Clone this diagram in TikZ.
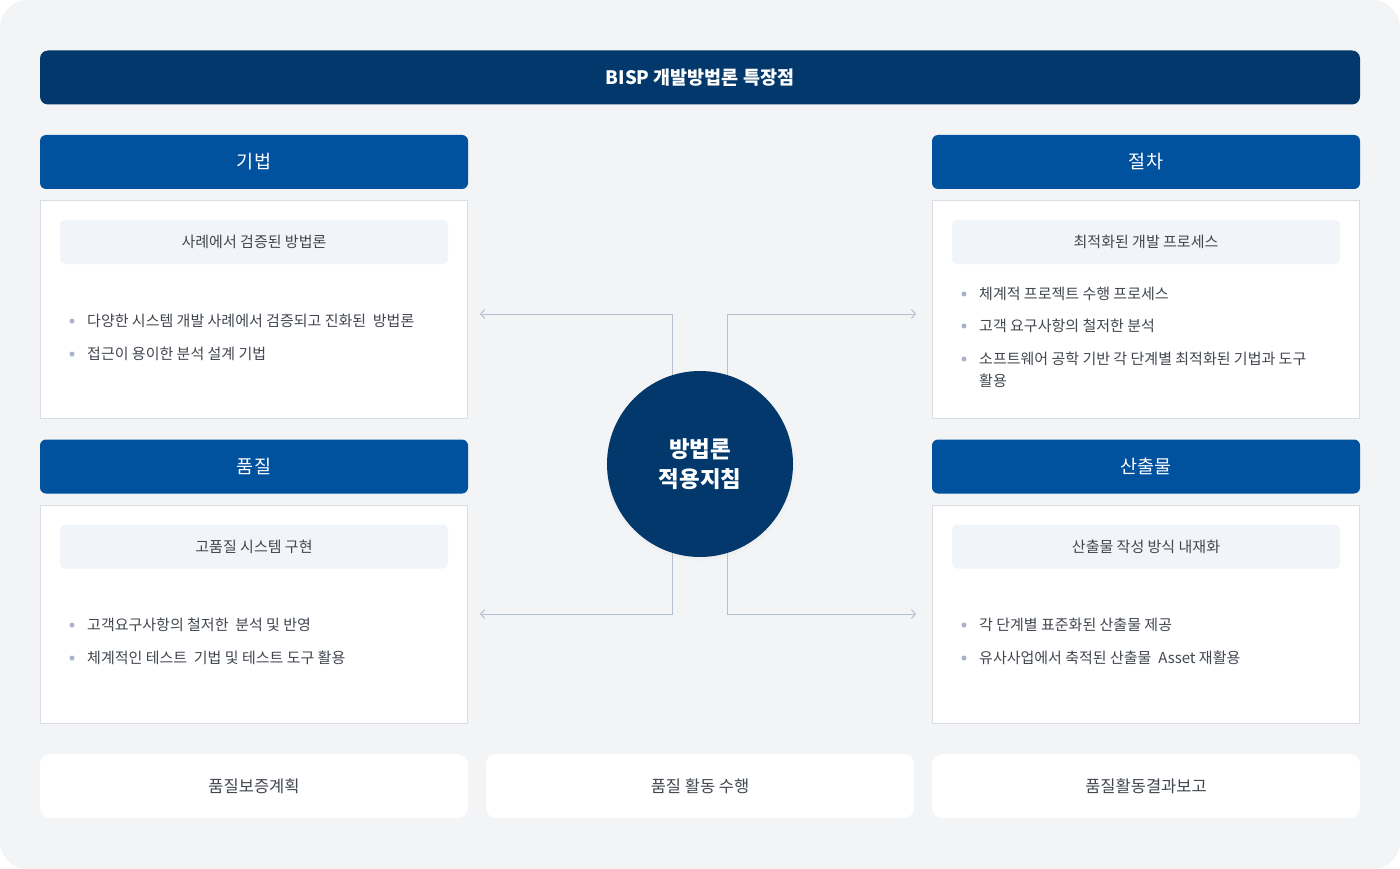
\documentclass[tikz,border=0pt]{standalone}
\usepackage{fontspec}
\setmainfont{Noto Sans CJK KR}
\usetikzlibrary{arrows.meta,shadows}
\definecolor{navy}{HTML}{02386B}
\definecolor{headblue}{HTML}{00519E}
\definecolor{panelbg}{HTML}{F3F4F6}
\definecolor{subbg}{HTML}{F1F4F8}
\definecolor{boxline}{HTML}{DADDE2}
\definecolor{linkc}{HTML}{B5C1D1}
\definecolor{dotc}{HTML}{A8B3C3}
\definecolor{txt}{HTML}{42474F}

\begin{document}
\begin{tikzpicture}[x=1pt, y=-1pt,
    head/.style={fill=headblue, text=white, rounded corners=6pt, minimum width=428pt, minimum height=54pt, font=\fontsize{18.5}{22}\selectfont},
    card/.style={fill=white, draw=boxline, line width=1pt, minimum width=427pt, minimum height=218pt},
    subhead/.style={fill=subbg, rounded corners=5pt, minimum width=388pt, minimum height=44pt, text=txt, font=\fontsize{15}{18}\selectfont},
    item/.style={anchor=west, text=txt, inner sep=0pt, font=\fontsize{15}{22}\selectfont, align=left},
    stagebox/.style={fill=white, rounded corners=10pt, minimum width=428pt, minimum height=64pt, text=txt, font=\fontsize{16.5}{20}\selectfont},
    link/.style={draw=linkc, line width=1pt, -{Straight Barb[length=4pt,width=9pt]}}]

      % background panel
      \fill[white] (0,0) rectangle (1400,869);
      \fill[panelbg, rounded corners=28pt] (0,0) rectangle (1400,869);

      \node[fill=navy, text=white, rounded corners=8pt, minimum width=1320pt, minimum height=54pt, font=\bfseries\fontsize{18.5}{22}\selectfont] (title) at (700,77.5) {BISP 개발방법론 특장점};

      % four corners
      \node[head] (tech) at (254,162) {기법};
      \node[head] (proc) at (1146,162) {절차};
      \node[head] (qual) at (254,466.5) {품질};
      \node[head] (outp) at (1146,466.5) {산출물};

      \node[card] (techC) at (254,309.5) {};
      \node[card] (procC) at (1146,309.5) {};
      \node[card] (qualC) at (254,614) {};
      \node[card] (outpC) at (1146,614) {};

      \node[subhead] (techS) at (254,242) {사례에서 검증된 방법론};
      \node[subhead] (procS) at (1146,242) {최적화된 개발 프로세스};
      \node[subhead] (qualS) at (254,546.5) {고품질 시스템 구현};
      \node[subhead] (outpS) at (1146,546.5) {산출물 작성 방식 내재화};

      \fill[dotc] (72,321) circle (2.5) (72,354) circle (2.5);
      \node[item] (t1) at (87,321) {다양한 시스템 개발 사례에서 검증되고 진화된~ 방법론};
      \node[item] (t2) at (87,354) {접근이 용이한 분석 설계 기법};

      \fill[dotc] (964,294) circle (2.5) (964,326) circle (2.5) (964,359) circle (2.5);
      \node[item] (p1) at (979,294) {체계적 프로젝트 수행 프로세스};
      \node[item] (p2) at (979,326) {고객 요구사항의 철저한 분석};
      \node[item] (p3) at (979,370) {소프트웨어 공학 기반 각 단계별 최적화된 기법과 도구\\활용};

      \fill[dotc] (72,625) circle (2.5) (72,658) circle (2.5);
      \node[item] (q1) at (87,625) {고객요구사항의 철저한~ 분석 및 반영};
      \node[item] (q2) at (87,658) {체계적인 테스트~ 기법 및 테스트 도구 활용};

      \fill[dotc] (964,625) circle (2.5) (964,658) circle (2.5);
      \node[item] (o1) at (979,625) {각 단계별 표준화된 산출물 제공};
      \node[item] (o2) at (979,658) {유사사업에서 축적된 산출물~ Asset 재활용};

      % centre
      \node[circle, fill=navy, minimum size=186pt, text=white, align=center, font=\bfseries\fontsize{22.4}{30}\selectfont,
            circular drop shadow={shadow xshift=0pt, shadow yshift=-2pt, opacity=0.12, shadow scale=1.03}] (core) at (700,464) {방법론\\적용지침};

      \coordinate (tl) at (480,314);
      \coordinate (tr) at (916,314);
      \coordinate (bl) at (480,614);
      \coordinate (br) at (916,614);

      \draw[link] (core.107) |- (tl);
      \draw[link] (core.73) |- (tr);
      \draw[link] (core.253) |- (bl);
      \draw[link] (core.287) |- (br);

      % bottom row
      \node[stagebox] (plan) at (254,786) {품질보증계획};
      \node[stagebox] (run) at (700,786) {품질 활동 수행};
      \node[stagebox] (report) at (1146,786) {품질활동결과보고};
    \end{tikzpicture}
\end{document}
